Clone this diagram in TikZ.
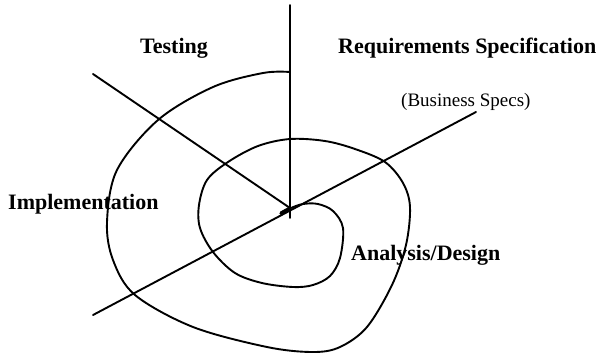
\documentclass[tikz,border=0pt]{standalone}
\usepackage{fontspec}
\setmainfont{Liberation Serif}
\begin{document}
\begin{tikzpicture}[x=1pt,y=-1pt,
  axis/.style={line width=1.9pt,line cap=round},
  spiral/.style={line width=1.9pt,line join=round},
  phase/.style={anchor=base west,inner sep=0pt,font=\fontsize{22}{26}\selectfont\bfseries},
  sub/.style={anchor=base west,inner sep=0pt,font=\fontsize{19}{23}\selectfont}]
\useasboundingbox (0,0) rectangle (596,354);
% axes
\coordinate (c) at (290,208);
\coordinate (top) at (290,5);
\coordinate (vend) at (290,218);
\coordinate (ul) at (93,74);
\coordinate (ll) at (93,315);
\coordinate (ur) at (476,112);
\draw[axis] (top) -- (vend);
\draw[axis] (ul) -- (c);
\draw[axis] (ll) -- (ur);
% spiral
\draw[spiral] plot[smooth,tension=0.55] coordinates {
 (280,214) (291,208) (303,204) (318,204) (333,211) (343,228) (340,258)
 (330,276) (313,285) (293,287) (262,283) (235,273) (213,252) (200,228)
 (199,205) (207,180) (228,162) (258,146) (290,139) (325,141) (355,149)
 (385,162) (403,183) (410,207) (406,245) (392,285) (367,327) (340,347)
 (313,352) (267,347) (193,327) (135,295) (113,260) (107,222) (117,170)
 (158,120) (213,87) (263,73) (290,72)};
\draw[line width=3.2pt,line cap=round] (281,213) -- (c);
% labels
\node[phase] (testing) at (140,53) {Testing};
\node[phase] (req) at (338,53) {Requirements Specification};
\node[sub] (bus) at (401,106) {(Business Specs)};
\node[phase] (impl) at (8,209) {Implementation};
\node[phase] (anal) at (351,260) {Analysis/Design};
\end{tikzpicture}
\end{document}
